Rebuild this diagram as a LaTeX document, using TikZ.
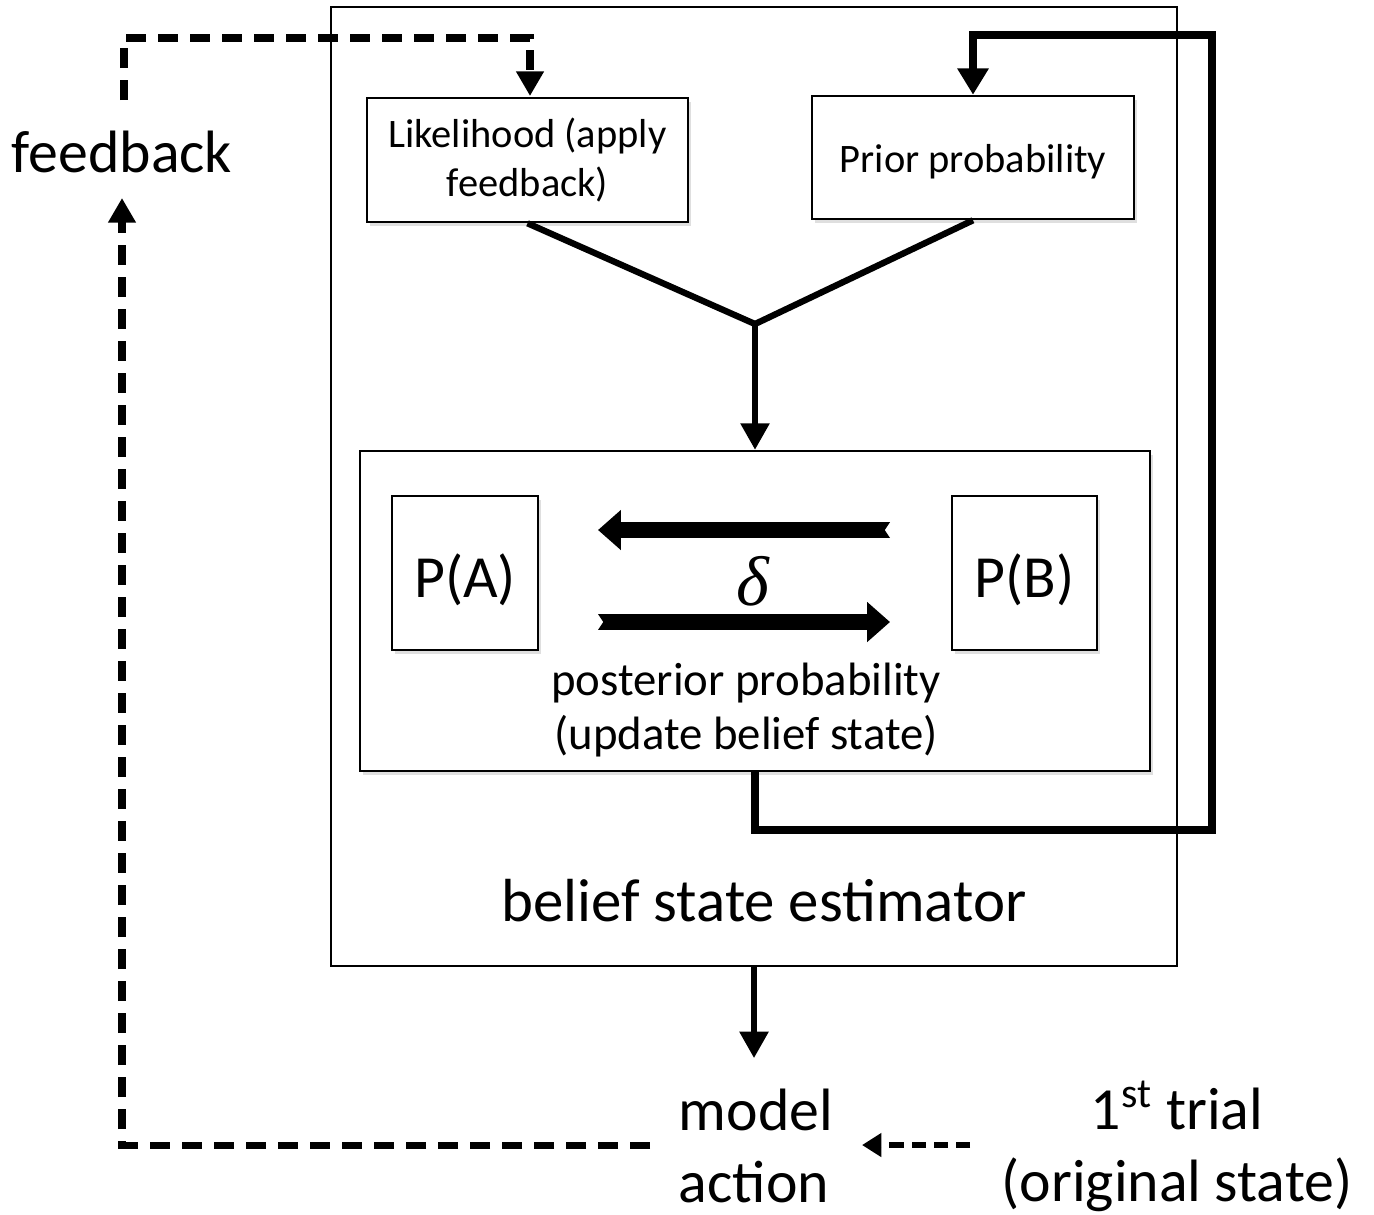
\documentclass[tikz,border=0pt]{standalone}
\usepackage{fontspec}
\setmainfont{Carlito}
\newfontfamily\deltafont{Liberation Serif}
\usetikzlibrary{arrows.meta,shadows,calc}
\begin{document}
\begin{tikzpicture}[x=0.01cm,y=-0.01cm,
  box/.style={draw, line width=0.7pt, fill=white, inner sep=0pt, align=center,
    drop shadow={shadow xshift=0.8pt, shadow yshift=-1.2pt, opacity=0.25}},
  thin box/.style={draw, line width=0.6pt, fill=white, inner sep=0pt},
  yline/.style={line width=1.8pt},
  downarrow/.style={line width=1.5pt, -{Triangle[length=7.5pt,width=8pt]}},
  loop/.style={line width=2.3pt, line join=miter},
  dashline/.style={line width=2pt, dash pattern=on 5.7pt off 3.4pt},
  dasharrow/.style={dashline, -{Triangle[length=7pt,width=7.5pt]}},
  bigarrow/.style={line width=4.5pt, {Triangle Cap[reversed,length=1.5pt]}-{Triangle[length=6.5pt,width=11pt]}},
  lbl/.style={inner sep=0pt, align=center}
]
\useasboundingbox (0,0) rectangle (1374,1214);

% outer estimator box
\node[thin box, minimum width=8.46cm, minimum height=9.59cm] (outer) at (754,486.5) {};

% top boxes
\node[box, minimum width=3.21cm, minimum height=1.24cm, font=\fontsize{11.5}{13.7}\selectfont] (lik) at (527.5,160) {Likelihood (apply\\feedback)};
\node[box, minimum width=3.22cm, minimum height=1.23cm, font=\fontsize{11.5}{13.7}\selectfont] (prior) at (973,157.5) {\raisebox{-4.4pt}[0pt][0pt]{Prior probability}};

% inner posterior box
\node[box, minimum width=7.90cm, minimum height=3.20cm] (inner) at (755,611) {};
\node[box, minimum width=1.46cm, minimum height=1.54cm, font=\fontsize{17}{19}\selectfont] (pa) at (465,573) {\raisebox{-7pt}[0pt][0pt]{P(A)}};
\node[box, minimum width=1.45cm, minimum height=1.54cm, font=\fontsize{17}{19}\selectfont] (pb) at (1024.5,573) {\raisebox{-7pt}[0pt][0pt]{P(B)}};
\node[lbl, font=\fontsize{20}{22}\selectfont\deltafont\itshape] (delta) at (753,581) {δ};
\node[lbl, font=\fontsize{13.3}{15.4}\selectfont] (post) at (746,710) {posterior probability\\(update belief state)};

% texts
\node[lbl, font=\fontsize{17.3}{20}\selectfont] (est) at (764,901) {belief state estimator};
\node[lbl, font=\fontsize{17}{20}\selectfont] (fb) at (122,152) {feedback};
\node[lbl, align=left, font=\fontsize{17}{20.5}\selectfont] (model) at (756,1146) {model\\action};
\node[lbl, font=\fontsize{17}{20.5}\selectfont] (trial) at (1177,1146) {1\textsuperscript{st} trial\\(original state)};

% junction and routing points
\coordinate (Y) at (755,324);
\coordinate (fbA) at (755,830);
\coordinate (fbB) at (1212,830);
\coordinate (fbC) at (1212,35);
\coordinate (fbD) at (973,35);
\coordinate (modelTop) at (754,1058);
\coordinate (mL) at (650,1145);
\coordinate (mC) at (122,1145);
\coordinate (fbTip) at (122,198);
\coordinate (fbTop) at (124,100);
\coordinate (tC1) at (124,38);
\coordinate (tC2) at (530,38);
\coordinate (likTop) at (530,96);
\coordinate (trR) at (970,1145);
\coordinate (trL) at (862,1145);

% Y merge
\draw[yline] (lik.south) -- (Y);
\draw[yline] (prior.south) -- (Y);
\draw[downarrow] (Y) -- (inner.north);

% delta arrows
\draw[bigarrow] (890,530) -- (598,530);
\draw[bigarrow] (598,622) -- (890,622);

% loop back to prior
\draw[loop, -{Triangle[length=7.5pt,width=8.5pt]}] (inner.south -| fbA) -- (fbA) -- (fbB) -- (fbC) -- (fbD) -- (prior.north);

% estimator to action
\draw[downarrow] (outer.south) -- (modelTop);

% dashed feedback loop
\draw[dasharrow] (mL) -- (mC) -- (fbTip);
\draw[dasharrow] (fbTop) -- (tC1) -- (tC2) -- (likTop);

% first trial
\draw[line width=1.8pt, dash pattern=on 4pt off 2.3pt, -{Triangle[length=5.5pt,width=6.5pt]}] (trR) -- (trL);
\end{tikzpicture}
\end{document}
